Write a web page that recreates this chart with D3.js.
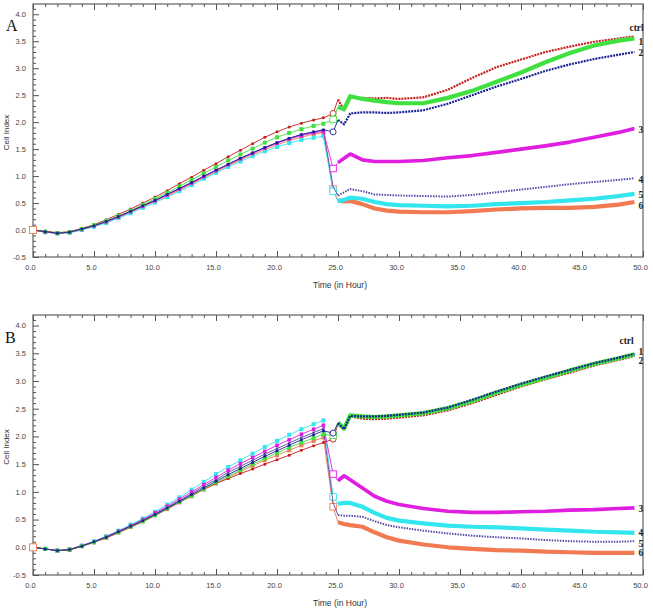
<!DOCTYPE html>
<html><head><meta charset="utf-8">
<script src="https://cdn.jsdelivr.net/npm/d3@7"></script>
<style>body{margin:0;background:#fff}svg{display:block}</style>
</head><body><svg id="c" width="653" height="610"></svg>
<script>
// ---- data ----
const times = [0,1,2,3,4,5,6,7,8,9,10,11,12,13,14,15,16,17,18,19,20,21,22,23,
  23.8,24.6,25,25.5,26,27,28,29,30,32,34,36,38,40,42,44,46,48,49.3];
const seriesLabels = ["ctrl","1","2","3","4","5","6"];
const yTicks = [-0.5,0,0.5,1,1.5,2,2.5,3,3.5,4];
const xTicks = [0,5,10,15,20,25,30,35,40,45,50];

// Panel A
const ctrlA = [0.00,-0.02,-0.05,-0.03,0.03,0.10,0.19,0.29,0.39,0.50,0.61,0.73,0.86,0.98,1.11,1.23,1.36,1.48,1.60,1.72,1.82,1.91,1.98,2.04,
  2.08,2.16,2.42,2.22,2.46,2.45,2.44,2.45,2.43,2.46,2.60,2.82,3.02,3.16,3.30,3.40,3.49,3.55,3.59];
const s1A = [0.00,-0.03,-0.06,-0.04,0.02,0.09,0.17,0.26,0.36,0.47,0.58,0.69,0.81,0.93,1.05,1.17,1.29,1.40,1.51,1.62,1.72,1.80,1.87,1.93,
  1.97,2.05,2.28,2.24,2.48,2.43,2.40,2.37,2.35,2.35,2.45,2.58,2.75,2.92,3.11,3.28,3.42,3.51,3.55];
const s2A = [0.00,-0.03,-0.06,-0.04,0.02,0.08,0.16,0.25,0.35,0.45,0.55,0.66,0.77,0.88,1.00,1.11,1.22,1.33,1.43,1.53,1.62,1.70,1.77,1.82,
  1.86,1.82,2.04,1.96,2.16,2.18,2.18,2.17,2.18,2.22,2.34,2.50,2.66,2.80,2.95,3.07,3.17,3.25,3.30];
const s3A = [0.00,-0.04,-0.06,-0.04,0.01,0.08,0.15,0.24,0.34,0.44,0.54,0.65,0.76,0.87,0.99,1.10,1.21,1.32,1.42,1.52,1.61,1.69,1.75,1.80,
  1.83,1.14,1.25,1.33,1.41,1.30,1.27,1.27,1.27,1.29,1.34,1.38,1.44,1.50,1.56,1.63,1.72,1.81,1.88];
const s4A = [0.00,-0.03,-0.06,-0.04,0.02,0.08,0.16,0.25,0.35,0.45,0.55,0.66,0.77,0.88,0.99,1.11,1.22,1.33,1.43,1.53,1.62,1.70,1.77,1.82,
  1.85,0.80,0.64,0.70,0.76,0.72,0.66,0.65,0.64,0.63,0.62,0.65,0.70,0.75,0.80,0.85,0.89,0.93,0.96];
const s5A = [0.00,-0.04,-0.06,-0.05,0.00,0.06,0.13,0.22,0.31,0.41,0.51,0.61,0.72,0.83,0.95,1.06,1.17,1.27,1.37,1.46,1.54,1.61,1.67,1.71,
  1.74,0.72,0.53,0.56,0.60,0.58,0.52,0.48,0.46,0.45,0.44,0.45,0.48,0.50,0.52,0.55,0.58,0.63,0.67];
const s6A = [0.00,-0.04,-0.06,-0.05,0.01,0.07,0.14,0.23,0.33,0.43,0.53,0.63,0.74,0.85,0.97,1.08,1.19,1.30,1.40,1.49,1.58,1.66,1.72,1.78,
  1.81,0.76,0.55,0.53,0.54,0.48,0.40,0.36,0.34,0.33,0.33,0.35,0.38,0.40,0.41,0.41,0.43,0.47,0.52];

// Panel B
const ctrlB = [0.00,-0.03,-0.06,-0.05,0.02,0.09,0.17,0.26,0.36,0.46,0.57,0.69,0.81,0.93,1.05,1.15,1.24,1.33,1.41,1.50,1.58,1.66,1.75,1.83,
  1.89,1.95,2.22,2.12,2.36,2.32,2.31,2.32,2.34,2.38,2.47,2.60,2.75,2.90,3.03,3.15,3.28,3.38,3.45];
const s1B = [0.00,-0.03,-0.06,-0.04,0.02,0.09,0.18,0.27,0.37,0.47,0.58,0.70,0.82,0.93,1.05,1.17,1.28,1.39,1.50,1.60,1.70,1.80,1.89,1.97,
  2.04,2.02,2.25,2.14,2.38,2.36,2.35,2.36,2.38,2.42,2.51,2.64,2.79,2.93,3.06,3.19,3.31,3.41,3.48];
const s2B = [0.00,-0.03,-0.06,-0.04,0.02,0.10,0.18,0.28,0.38,0.48,0.59,0.71,0.83,0.95,1.07,1.19,1.31,1.42,1.53,1.64,1.74,1.84,1.94,2.03,
  2.10,2.06,2.24,2.13,2.37,2.36,2.36,2.37,2.39,2.43,2.52,2.66,2.81,2.95,3.08,3.20,3.32,3.42,3.49];
const s3B = [0.00,-0.03,-0.06,-0.04,0.03,0.10,0.19,0.29,0.39,0.50,0.62,0.74,0.87,1.00,1.13,1.26,1.39,1.51,1.62,1.73,1.84,1.94,2.04,2.13,
  2.20,1.32,1.20,1.29,1.22,1.07,0.92,0.83,0.77,0.70,0.65,0.63,0.63,0.64,0.65,0.67,0.68,0.70,0.71];
const s4B = [0.00,-0.03,-0.06,-0.04,0.03,0.11,0.20,0.30,0.41,0.52,0.64,0.77,0.90,1.04,1.18,1.32,1.45,1.57,1.69,1.81,1.92,2.03,2.13,2.22,
  2.29,0.91,0.78,0.80,0.80,0.73,0.62,0.53,0.48,0.43,0.39,0.37,0.36,0.34,0.32,0.30,0.28,0.27,0.26];
const s5B = [0.00,-0.03,-0.06,-0.04,0.03,0.10,0.19,0.28,0.38,0.49,0.60,0.72,0.84,0.97,1.10,1.22,1.35,1.46,1.57,1.68,1.78,1.88,1.98,2.07,
  2.14,0.80,0.58,0.57,0.57,0.55,0.47,0.40,0.36,0.30,0.25,0.21,0.18,0.16,0.13,0.11,0.10,0.10,0.11];
const s6B = [0.00,-0.03,-0.06,-0.05,0.02,0.09,0.17,0.27,0.37,0.47,0.58,0.69,0.81,0.92,1.04,1.15,1.26,1.37,1.47,1.57,1.66,1.75,1.84,1.92,
  1.98,0.73,0.45,0.42,0.40,0.37,0.27,0.18,0.12,0.05,0.00,-0.03,-0.05,-0.06,-0.08,-0.09,-0.10,-0.10,-0.10];

// ---- styles ----
const stRed    = {color:"#c41e1e", marker:"circle", r:1.5, w:2.2, dash:"2,1", open:true, first:false};
const stGreen  = {color:"#3fe03f", marker:"square", r:2, w:4.2, dash:null, open:true, first:false};
const stBlue   = {color:"#1c2296", marker:"circle", r:1.5, w:2.2, dash:"2,1", open:true, first:false};
const stMag    = {color:"#e01ee0", marker:"square", r:1.8, w:3.6, dash:null, open:true, first:false};
const stPurple = {color:"#5a4aa8", marker:"circle", r:1.3, w:2, dash:"1.5,1.2", open:false, first:false};
const stCyan   = {color:"#33e6ee", marker:"square", r:2, w:4.2, dash:null, open:true, first:false};
const stOrange = {color:"#f27a52", marker:"square", r:2, w:4.2, dash:null, open:true, first:true};

const panels = [
  {letter:"A", series:[ctrlA,s1A,s2A,s3A,s4A,s5A,s6A],
   styles:[stRed,stGreen,stBlue,stMag,stPurple,stCyan,stOrange], order:[6,5,4,3,0,1,2],
   top:4, bottom:257, letterX:6, letterY:31,
   labelDy:[-9,3,1,1,1,1,4], labelDx:[-5,4,4,4,4,4,4]},
  {letter:"B", series:[ctrlB,s1B,s2B,s3B,s4B,s5B,s6B],
   styles:[stRed,stGreen,stBlue,stMag,stCyan,stPurple,stOrange], order:[6,4,5,3,0,1,2],
   top:315, bottom:575, letterX:5, letterY:343,
   labelDy:[-15,-3,7,1,0,2,0], labelDx:[-15,4,4,4,4,4,4]}
];
const left = 33, right = 643;
const growthEnd = 24; // index of last pre-treatment point

const svg = d3.select("#c");
const fmt = d => d.toFixed(1);
const x = d3.scaleLinear().domain([0,50]).range([left,right]);

function openMarker(sel, st, px, py, size) {
  if (st.marker==="circle") {
    sel.append("circle").attr("cx",px).attr("cy",py).attr("r",size/2)
      .attr("fill","#fff").attr("stroke",st.color).attr("stroke-width",0.9);
  } else {
    sel.append("rect").attr("x",px-size/2).attr("y",py-size/2).attr("width",size).attr("height",size)
      .attr("fill","#fff").attr("stroke",st.color).attr("stroke-width",0.9);
  }
}

panels.forEach(p => {
  const y = d3.scaleLinear().domain([-0.5,4.19]).range([p.bottom,p.top]);
  const g = svg.append("g");

  g.append("rect").attr("x",left).attr("y",p.top).attr("width",right-left).attr("height",p.bottom-p.top)
    .attr("fill","none").attr("stroke","#6e6e6e").attr("stroke-width",1.3);

  const minorY = d3.range(-5,42).map(i=>i/10).filter(v=>!yTicks.some(t=>Math.abs(t-v)<1e-6));
  const minorX = d3.range(0,51).filter(v=>v%5!==0);
  const axStyle = sel => { sel.select(".domain").remove(); sel.selectAll("line").attr("stroke","#555");
    sel.selectAll("text").attr("fill","#444").style("font-family","Liberation Sans, Arial, sans-serif").style("font-size","7.5px"); };

  g.append("g").attr("transform",`translate(${left},0)`)
    .call(d3.axisLeft(y).tickValues(minorY).tickSize(-3).tickFormat("")).call(axStyle);
  g.append("g").attr("transform",`translate(${left},0)`)
    .call(d3.axisLeft(y).tickValues(yTicks).tickSize(-6).tickPadding(7).tickFormat(fmt)).call(axStyle);

  g.append("g").attr("transform",`translate(0,${p.bottom})`)
    .call(d3.axisBottom(x).tickValues(minorX).tickSize(-3).tickFormat("")).call(axStyle);
  g.append("g").attr("transform",`translate(0,${p.bottom})`)
    .call(d3.axisBottom(x).tickValues(xTicks).tickSize(-6).tickPadding(8).tickFormat(fmt)).call(axStyle)
    .selectAll("text").attr("dx","-3");
  g.append("g").attr("transform",`translate(0,${p.top})`)
    .call(d3.axisTop(x).tickValues(minorX).tickSize(-3).tickFormat("")).call(axStyle);
  g.append("g").attr("transform",`translate(0,${p.top})`)
    .call(d3.axisTop(x).tickValues(xTicks).tickSize(-6).tickFormat("")).call(axStyle);

  g.append("text").attr("x",340).attr("y",p.bottom+31).attr("text-anchor","middle")
    .style("font-family","Liberation Sans, Arial, sans-serif").style("font-size","8.5px").attr("fill","#333")
    .text("Time (in Hour)");
  const cy = (p.top+p.bottom)/2 + 2;
  g.append("text").attr("transform",`translate(9,${cy}) rotate(-90)`).attr("text-anchor","middle")
    .style("font-family","Liberation Sans, Arial, sans-serif").style("font-size","8px").attr("fill","#333")
    .text("Cell Index");
  g.append("text").attr("x",p.letterX).attr("y",p.letterY)
    .style("font-family","Liberation Serif, Times New Roman, serif").style("font-size","16px").attr("fill","#111")
    .text(p.letter);

  const line = d3.line().x(d=>x(d[0])).y(d=>y(d[1]));
  const plot = g.append("g");

  p.order.forEach(si => {
    const vals = p.series[si];
    const st = p.styles[si];
    const pts = times.map((t,i)=>[t,vals[i]]);
    const pre = pts.slice(0, growthEnd+3);
    const post = pts.slice(growthEnd+2);
    plot.append("path").attr("d",line(pre)).attr("fill","none").attr("stroke",st.color).attr("stroke-width",0.9);
    plot.append("path").attr("d",line(post)).attr("fill","none").attr("stroke",st.color)
      .attr("stroke-width",st.w).attr("stroke-dasharray",st.dash).attr("stroke-linejoin","round");
    const growth = pts.slice(1, growthEnd+1);
    if (st.marker==="circle") {
      plot.selectAll(null).data(growth).join("circle").attr("cx",d=>x(d[0])).attr("cy",d=>y(d[1]))
        .attr("r",st.r).attr("fill",st.color);
    } else {
      plot.selectAll(null).data(growth).join("rect").attr("x",d=>x(d[0])-st.r).attr("y",d=>y(d[1])-st.r)
        .attr("width",st.r*2).attr("height",st.r*2).attr("fill",st.color);
    }
    if (st.open) {
      const d = pts[growthEnd+1];
      openMarker(plot, st, x(d[0]), y(d[1]), st.marker==="circle" ? 6 : 6.5);
    }
  });
  // open marker at the first reading (drawn on top, as in the source)
  p.styles.forEach((st, si) => {
    if (!st.first) return;
    const v = p.series[si][0];
    openMarker(plot, st, x(times[0]), y(v), 7);
  });

  seriesLabels.forEach((lab,si) => {
    const vals = p.series[si];
    const lx = x(times[times.length-1]) + p.labelDx[si];
    const ly = y(vals[vals.length-1]) + p.labelDy[si];
    g.append("text").attr("x",lx).attr("y",ly).attr("dy","0.35em")
      .style("font-family","Liberation Serif, Times New Roman, serif").style("font-size","9.5px")
      .style("font-weight","bold").attr("fill","#222").text(lab);
  });
});
</script>
</body></html>
